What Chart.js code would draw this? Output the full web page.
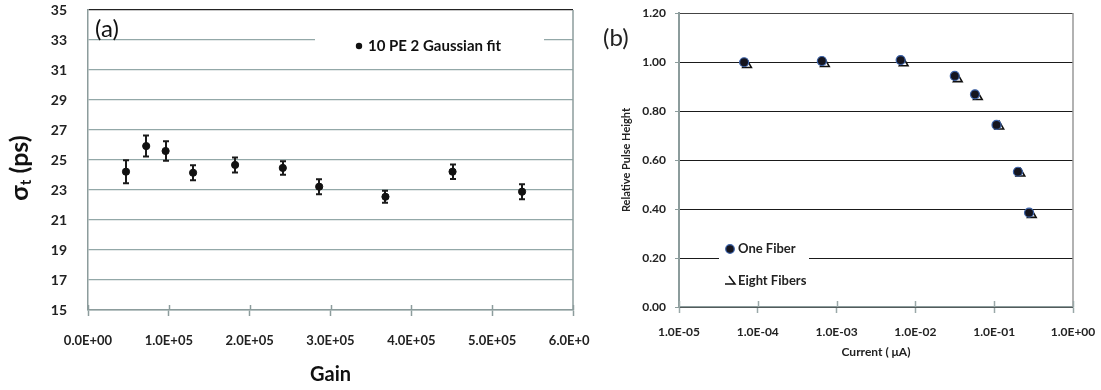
<!DOCTYPE html>
<html>
<head>
<meta charset="utf-8">
<script src="https://cdn.jsdelivr.net/npm/chart.js@4.4.1/dist/chart.umd.min.js"></script>
<style>
  body { margin: 0; background: #fff; width: 1101px; height: 390px; position: relative; overflow: hidden; }
  #wrapA { position: absolute; left: 0; top: 0; width: 590px; height: 390px; }
  #wrapB { position: absolute; left: 590px; top: 0; width: 511px; height: 390px; }
</style>
</head>
<body>
<div id="wrapA"><canvas id="chartA"></canvas></div>
<div id="wrapB"><canvas id="chartB"></canvas></div>
<script>
// (a) sigma_t vs gain
const gain = [4.7e4, 7.2e4, 9.6e4, 1.30e5, 1.82e5, 2.41e5, 2.86e5, 3.68e5, 4.51e5, 5.37e5];
const sigma = [24.22, 25.93, 25.60, 24.15, 24.67, 24.47, 23.22, 22.55, 24.22, 22.89];
const sigmaErr = [0.77, 0.70, 0.65, 0.50, 0.50, 0.45, 0.50, 0.40, 0.48, 0.50];

// (b) relative pulse height vs current
const currentOne = [6.7e-5, 6.5e-4, 6.5e-3, 3.16e-2, 5.7e-2, 0.107, 0.20, 0.277];
const oneFiber = [0.999, 1.004, 1.008, 0.943, 0.868, 0.743, 0.552, 0.385];
const currentEight = [7.3e-5, 7.1e-4, 7.1e-3, 3.45e-2, 6.2e-2, 0.116, 0.215, 0.30];
const eightFibers = [0.988, 0.992, 0.995, 0.930, 0.857, 0.737, 0.545, 0.376];
const currentTicks = [1e-5, 1e-4, 1e-3, 1e-2, 1e-1, 1];

Chart.defaults.font.family = "Lato, 'Liberation Sans', sans-serif";
Chart.defaults.color = '#222';

function fmtE(v) {
  const parts = Number(v).toExponential(1).split('e');
  const e = parseInt(parts[1], 10);
  return parts[0] + 'E' + (e < 0 ? '-' : '+') + String(Math.abs(e)).padStart(2, '0');
}

function xy(xs, ys) {
  return xs.map((x, i) => ({ x: x, y: ys[i] }));
}

// ---------- chart (a) ----------
const plotA = {
  id: 'plotA',
  beforeDatasetsDraw(chart) {
    const c = chart.ctx, xs = chart.scales.x, ys = chart.scales.y;
    c.save();
    c.strokeStyle = '#1a1a1a';
    c.lineWidth = 2;
    gain.forEach((g, i) => {
      const px = Math.round(xs.getPixelForValue(g));
      const y1 = ys.getPixelForValue(sigma[i] - sigmaErr[i]);
      const y2 = ys.getPixelForValue(sigma[i] + sigmaErr[i]);
      c.beginPath();
      c.moveTo(px, y1); c.lineTo(px, y2);
      c.moveTo(px - 3, y1); c.lineTo(px + 3, y1);
      c.moveTo(px - 3, y2); c.lineTo(px + 3, y2);
      c.stroke();
    });
    c.restore();
  },
  afterDraw(chart) {
    const c = chart.ctx, a = chart.chartArea, xs = chart.scales.x;
    c.save();
    // right border
    c.strokeStyle = '#8c9c9c';
    c.lineWidth = 1.5;
    c.beginPath(); c.moveTo(a.right, a.top); c.lineTo(a.right, a.bottom); c.stroke();
    // inner tick marks
    xs.ticks.forEach(t => {
      const px = Math.round(xs.getPixelForValue(t.value)) + 0.5;
      c.beginPath(); c.moveTo(px, a.bottom); c.lineTo(px, a.bottom - 5); c.stroke();
    });
    // legend
    c.fillStyle = '#fff';
    c.fillRect(315, 30, 229, 24);
    c.fillStyle = '#111';
    c.beginPath(); c.arc(359, 46, 3.2, 0, Math.PI * 2); c.fill();
    c.font = "bold 15px Lato, sans-serif";
    c.textBaseline = 'middle';
    c.textAlign = 'left';
    c.fillText(chart.data.datasets[0].label, 368, 46);
    // panel label
    c.font = "24px Lato, sans-serif";
    c.fillText('(a)', 95, 29);
    // x title
    c.font = "bold 20px Lato, sans-serif";
    c.textAlign = 'center';
    c.fillText('Gain', (a.left + a.right) / 2, 375);
    // y title with subscript
    c.translate(20, 168);
    c.rotate(-Math.PI / 2);
    const big = "bold 25px Lato, sans-serif", small = "bold 15px Lato, sans-serif";
    c.font = big; const w1 = c.measureText('\u03c3').width;
    c.font = small; const w2 = c.measureText('t').width;
    c.font = big; const w3 = c.measureText(' (ps)').width;
    let x0 = -(w1 + w2 + w3) / 2;
    c.textAlign = 'left';
    c.font = big; c.fillText('\u03c3', x0, 0);
    c.font = small; c.fillText('t', x0 + w1, 6);
    c.font = big; c.fillText(' (ps)', x0 + w1 + w2, 0);
    c.restore();
  }
};

new Chart(document.getElementById('chartA'), {
  type: 'scatter',
  data: {
    datasets: [{
      label: '10 PE 2 Gaussian fit',
      data: xy(gain, sigma),
      backgroundColor: '#111',
      borderColor: '#111',
      pointRadius: 3.6,
      pointHoverRadius: 3.6
    }]
  },
  options: {
    responsive: true,
    maintainAspectRatio: false,
    animation: false,
    layout: { padding: { top: 10, right: 17, left: 0, bottom: 0 } },
    plugins: { legend: { display: false }, tooltip: { enabled: false } },
    scales: {
      x: {
        type: 'linear', min: 0, max: 6e5,
        afterFit(s) { s.height = 80; s.paddingLeft = 0; s.paddingRight = 0; },
        grid: { drawOnChartArea: false, tickLength: 6, tickColor: '#8c9c9c', tickWidth: 1.5 },
        border: { color: '#8c9c9c', width: 1.5 },
        ticks: {
          stepSize: 1e5, autoSkip: false, maxRotation: 0, padding: 17,
          font: { size: 13, weight: 'bold' }, color: '#222',
          callback: v => fmtE(v)
        }
      },
      y: {
        min: 15, max: 35,
        afterFit(s) { s.width = 88; s.paddingTop = 0; s.paddingBottom = 0; },
        grid: {
          drawTicks: false, lineWidth: 1.3,
          color: ctx => ctx.tick && ctx.tick.value === 35 ? '#222' : '#93a8a8'
        },
        border: { color: '#8c9c9c', width: 1.5 },
        ticks: {
          stepSize: 2, padding: 21,
          font: { size: 14, weight: 'bold' }, color: '#222'
        }
      }
    }
  },
  plugins: [plotA]
});

// ---------- chart (b) ----------
const plotB = {
  id: 'plotB',
  afterDraw(chart) {
    const c = chart.ctx, a = chart.chartArea, xs = chart.scales.x;
    c.save();
    c.strokeStyle = '#999';
    c.lineWidth = 1.5;
    c.beginPath(); c.moveTo(a.right, a.top); c.lineTo(a.right, a.bottom); c.stroke();
    c.strokeStyle = '#9aa8a8';
    xs.ticks.forEach(t => {
      const px = Math.round(xs.getPixelForValue(t.value)) + 0.5;
      c.beginPath(); c.moveTo(px, a.bottom); c.lineTo(px, a.bottom - 6); c.stroke();
    });
    // legend
    const ox = chart.canvas.parentNode.offsetLeft;
    c.fillStyle = '#fff';
    c.fillRect(719 - ox, 236, 90, 58);
    c.beginPath(); c.arc(730 - ox, 249, 4.3, 0, Math.PI * 2);
    c.fillStyle = '#15151f'; c.fill();
    c.strokeStyle = '#3c62a8'; c.lineWidth = 1.2; c.stroke();
    c.strokeStyle = '#111'; c.lineWidth = 1.5;
    c.beginPath(); c.moveTo(725 - ox, 284); c.lineTo(735 - ox, 284); c.lineTo(729 - ox, 276); c.stroke();
    c.fillStyle = '#222';
    c.font = "bold 13px Lato, sans-serif";
    c.textBaseline = 'middle'; c.textAlign = 'left';
    c.fillText(chart.data.datasets[0].label, 738 - ox, 249);
    c.fillText(chart.data.datasets[1].label, 738 - ox, 281);
    // panel label
    c.font = "24px Lato, sans-serif";
    c.fillText('(b)', 603 - ox, 38);
    // x title
    c.font = "bold 12px Lato, sans-serif";
    c.textAlign = 'center';
    c.fillText('Current ( \u03bcA)', (a.left + a.right) / 2, 352);
    // y title
    c.translate(626 - ox, (a.top + a.bottom) / 2);
    c.rotate(-Math.PI / 2);
    c.font = "bold 11px Lato, sans-serif";
    c.fillText('Relative Pulse Height', 0, 0);
    c.restore();
  }
};

new Chart(document.getElementById('chartB'), {
  type: 'scatter',
  data: {
    datasets: [{
      label: 'One Fiber',
      data: xy(currentOne, oneFiber),
      pointStyle: 'circle',
      backgroundColor: '#15151f',
      borderColor: '#3c62a8',
      borderWidth: 1.2,
      pointRadius: 4.5,
      pointHoverRadius: 4.5
    }, {
      label: 'Eight Fibers',
      data: xy(currentEight, eightFibers),
      pointStyle: 'triangle',
      backgroundColor: '#fff',
      borderColor: '#111',
      borderWidth: 1.6,
      pointRadius: 5,
      pointHoverRadius: 5
    }]
  },
  options: {
    responsive: true,
    maintainAspectRatio: false,
    animation: false,
    layout: { padding: { top: 13, right: 28, left: 0, bottom: 0 } },
    plugins: { legend: { display: false }, tooltip: { enabled: false } },
    scales: {
      x: {
        type: 'logarithmic', min: 1e-5, max: 1,
        afterBuildTicks(s) { s.ticks = currentTicks.map(v => ({ value: v })); },
        afterFit(s) { s.height = 83; s.paddingLeft = 0; s.paddingRight = 0; },
        grid: { drawOnChartArea: false, tickLength: 6, tickColor: '#9aa8a8', tickWidth: 1.5 },
        border: { color: '#8c9c9c', width: 1.5 },
        ticks: {
          autoSkip: false, maxRotation: 0, padding: 12,
          font: { size: 12, weight: 'bold' }, color: '#222',
          callback: v => fmtE(v)
        }
      },
      y: {
        min: 0, max: 1.2,
        afterFit(s) { s.width = 89; s.paddingTop = 0; s.paddingBottom = 0; },
        grid: {
          tickLength: 4, lineWidth: 1,
          color: ctx => ctx.tick && ctx.tick.value > 1.19 ? '#444' : '#1a1a1a',
          tickColor: '#8c9c9c'
        },
        border: { color: '#8c9c9c', width: 2 },
        ticks: {
          stepSize: 0.2, padding: 9,
          font: { size: 12, weight: 'bold' }, color: '#222',
          callback: v => Number(v).toFixed(2)
        }
      }
    }
  },
  plugins: [plotB]
});
</script>
</body>
</html>
